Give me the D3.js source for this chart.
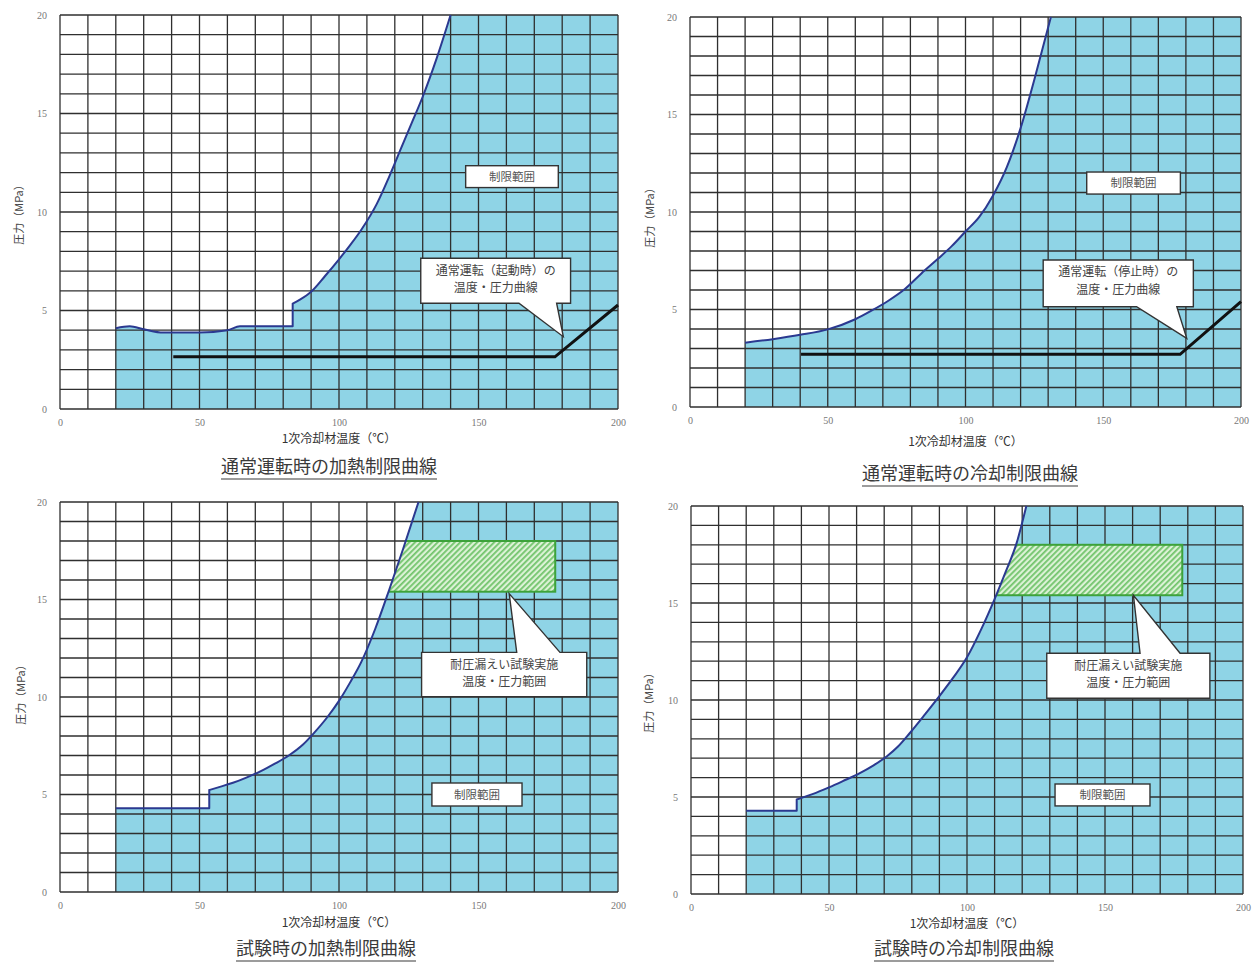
<!DOCTYPE html>
<html><head><meta charset="utf-8">
<script src="https://cdn.jsdelivr.net/npm/d3@7"></script>
<style>body{margin:0;background:#fff}</style>
</head><body>
<svg id="c" width="1260" height="965"></svg>
<script>
// Axis ticks and texts
const tempTicks = [0, 50, 100, 150, 200];
const pressTicks = [0, 5, 10, 15, 20];
const xTitle = "1次冷却材温度（℃）";
const yTitle = "圧力（MPa）";
const captions = ["通常運転時の加熱制限曲線", "通常運転時の冷却制限曲線", "試験時の加熱制限曲線", "試験時の冷却制限曲線"];
const regionLabel = "制限範囲";

// Limit curves: temperature (°C) / pressure (MPa)
const heatNormalT = [20, 25, 30, 37, 50, 60, 64.5, 83.4, 83.4, 86, 90, 95, 100, 104, 108, 113.5, 118, 122, 126, 130, 135, 140];
const heatNormalP = [4.1, 4.2, 4.05, 3.88, 3.88, 4.0, 4.2, 4.2, 5.35, 5.55, 5.95, 6.75, 7.6, 8.32, 9.1, 10.4, 11.8, 13.15, 14.5, 15.85, 17.8, 20];
const coolNormalT = [20, 30, 40, 50, 60, 66, 72, 78, 84, 90, 95, 100, 105, 110, 115, 120, 125, 131];
const coolNormalP = [3.3, 3.48, 3.7, 3.98, 4.5, 4.95, 5.45, 6.05, 6.85, 7.6, 8.25, 9.0, 9.75, 10.85, 12.3, 14.3, 16.8, 20];
const heatTestT = [20, 53.5, 53.5, 57, 62, 67, 72, 77, 82, 87, 91, 96, 100, 104, 108, 113, 118, 123, 128.5];
const heatTestP = [4.29, 4.29, 5.23, 5.38, 5.6, 5.88, 6.2, 6.58, 7.0, 7.55, 8.15, 9.0, 9.8, 10.75, 11.8, 13.5, 15.5, 17.6, 20];
const coolTestT = [20, 38.3, 38.3, 44, 50, 55, 61, 66, 71, 75, 79.3, 85, 90, 95, 100, 105, 110, 114, 118, 121.5];
const coolTestP = [4.29, 4.29, 4.87, 5.15, 5.5, 5.82, 6.22, 6.62, 7.1, 7.6, 8.3, 9.3, 10.2, 11.15, 12.2, 13.6, 15.2, 16.6, 18.1, 20];

// Normal operation temperature–pressure lines
const startupT = [40.6, 177.4, 200];
const startupP = [2.65, 2.65, 5.28];
const shutdownT = [40.3, 177.9, 200];
const shutdownP = [2.7, 2.7, 5.4];

// Leak test temperature / pressure ranges
const heatTestRangeT = [112, 177.5];
const coolTestRangeT = [108, 178];
const testRangeP = [15.4, 18];

// Callout texts
const startupNote = ["通常運転（起動時）の", "温度・圧力曲線"];
const shutdownNote = ["通常運転（停止時）の", "温度・圧力曲線"];
const testNote = ["耐圧漏えい試験実施", "温度・圧力範囲"];

const panels = [
  { box: [60, 618, 15, 409], curveT: heatNormalT, curveP: heatNormalP, lineT: startupT, lineP: startupP,
    note: startupNote, noteBox: [129.3, 183, 5.37, 7.65], noteBase: [164.5, 178], noteTip: [180.4, 3.67], noteSide: "bottom",
    label: [145.4, 178.6, 11.24, 12.35], yTitle: [20, 212], xTitleDy: 31, caption: [329, 468] },
  { box: [690, 1241, 17, 407], curveT: coolNormalT, curveP: coolNormalP, lineT: shutdownT, lineP: shutdownP,
    note: shutdownNote, noteBox: [128.2, 182.7, 5.14, 7.54], noteBase: [162.1, 176.7], noteTip: [180.3, 3.52], noteSide: "bottom",
    label: [144, 178, 10.92, 12.05], yTitle: [651, 215], xTitleDy: 36, caption: [970, 475] },
  { box: [60, 618, 502, 892], curveT: heatTestT, curveP: heatTestP, rangeT: heatTestRangeT, rangeP: testRangeP,
    note: testNote, noteBox: [129.6, 188.8, 10.02, 12.29], noteBase: [163.7, 179.2], noteTip: [161, 15.3], noteSide: "top",
    label: [133.3, 165.6, 4.41, 5.59], yTitle: [22, 692], xTitleDy: 32, caption: [326, 950] },
  { box: [691, 1243, 506, 894], curveT: coolTestT, curveP: coolTestP, rangeT: coolTestRangeT, rangeP: testRangeP,
    note: testNote, noteBox: [128.9, 188, 10.09, 12.41], noteBase: [162.7, 177.2], noteTip: [160.3, 15.4], noteSide: "top",
    label: [131.9, 166.3, 4.54, 5.67], yTitle: [650, 700], xTitleDy: 31, caption: [964, 950] }
];

const svg = d3.select("#c");
const JP = "'Noto Sans CJK JP', 'Noto Sans', sans-serif";
const NUM = "'Liberation Serif', 'DejaVu Serif', serif";
const defs = svg.append("defs");

// diagonal hatch for the test range
const pat = defs.append("pattern").attr("id", "hatch").attr("patternUnits", "userSpaceOnUse")
  .attr("width", 4).attr("height", 4).attr("patternTransform", "rotate(45)");
pat.append("rect").attr("width", 4).attr("height", 4).attr("fill", "#dcf2d6");
pat.append("rect").attr("width", 1.8).attr("height", 4).attr("fill", "#72c46c");

// smooth path through the points; vertical steps (repeated temperature) stay sharp
function curvePath(pts, x, y) {
  const runs = [[pts[0]]];
  for (let k = 1; k < pts.length; k++) {
    if (pts[k][0] === pts[k - 1][0]) runs.push([pts[k]]);
    else runs[runs.length - 1].push(pts[k]);
  }
  const gen = d3.line().x(d => x(d[0])).y(d => y(d[1])).curve(d3.curveMonotoneX);
  return runs.map((r, k) => {
    const s = r.length > 1 ? gen(r) : `M${x(r[0][0])},${y(r[0][1])}`;
    return k === 0 ? s : "L" + s.slice(1);
  }).join("");
}

panels.forEach((pn, i) => {
  const [bx0, bx1, by0, by1] = pn.box;
  const x = d3.scaleLinear().domain([0, 200]).range([bx0, bx1]);
  const y = d3.scaleLinear().domain([0, 20]).range([by1, by0]);
  const g = svg.append("g");

  const pts = pn.curveT.map((t, k) => [t, pn.curveP[k]]);
  const last = pts[pts.length - 1];
  const cPath = curvePath(pts, x, y);
  const areaD = `M${x(pts[0][0])},${y(0)}L` + cPath.slice(1) +
    `L${x(last[0])},${y(20)}L${x(200)},${y(20)}L${x(200)},${y(0)}Z`;
  const lineGen = d3.line().x(d => x(d[0])).y(d => y(d[1]));

  // restricted region
  g.append("path").attr("d", areaD).attr("fill", "#8fd4e6");

  // grid
  const grid = g.append("g").attr("stroke", "#2f2f2f").attr("stroke-width", 1.3);
  grid.selectAll(".v").data(d3.range(0, 201, 10)).join("line")
    .attr("x1", d => x(d)).attr("x2", d => x(d)).attr("y1", y(0)).attr("y2", y(20));
  grid.selectAll(".h").data(d3.range(0, 21, 1)).join("line")
    .attr("y1", d => y(d)).attr("y2", d => y(d)).attr("x1", x(0)).attr("x2", x(200));

  // leak test range, bounded by the limit curve
  if (pn.rangeT) {
    const cid = "clip" + i;
    defs.append("clipPath").attr("id", cid).append("path").attr("d", areaD);
    g.append("rect").attr("clip-path", `url(#${cid})`)
      .attr("x", x(pn.rangeT[0])).attr("width", x(pn.rangeT[1]) - x(pn.rangeT[0]))
      .attr("y", y(pn.rangeP[1])).attr("height", y(pn.rangeP[0]) - y(pn.rangeP[1]))
      .attr("fill", "url(#hatch)").attr("stroke", "#3da23a").attr("stroke-width", 2);
  }

  // limit curve
  g.append("path").attr("d", cPath).attr("fill", "none")
    .attr("stroke", "#2b3990").attr("stroke-width", 2).attr("stroke-linejoin", "round");

  // normal operation line
  if (pn.lineT) {
    const lp = pn.lineT.map((t, k) => [t, pn.lineP[k]]);
    g.append("path").attr("d", lineGen(lp)).attr("fill", "none")
      .attr("stroke", "#111").attr("stroke-width", 3);
  }

  // callout
  const [nt0, nt1, np0, np1] = pn.noteBox;
  const X0 = x(nt0), X1 = x(nt1), Ytop = y(np1), Ybot = y(np0);
  const B1 = x(pn.noteBase[0]), B2 = x(pn.noteBase[1]);
  const TX = x(pn.noteTip[0]), TY = y(pn.noteTip[1]);
  let d;
  if (pn.noteSide === "bottom") {
    d = `M${X0},${Ytop}H${X1}V${Ybot}H${B2}L${TX},${TY}L${B1},${Ybot}H${X0}Z`;
  } else {
    d = `M${X0},${Ytop}H${B1}L${TX},${TY}L${B2},${Ytop}H${X1}V${Ybot}H${X0}Z`;
  }
  g.append("path").attr("d", d).attr("fill", "#fff").attr("stroke", "#333").attr("stroke-width", 1.4)
    .attr("stroke-linejoin", "miter");
  pn.note.forEach((s, k) => {
    g.append("text").attr("x", (X0 + X1) / 2).attr("y", Ytop + 13 + k * 17.5)
      .attr("text-anchor", "middle").attr("dominant-baseline", "middle")
      .attr("font-family", JP).attr("font-size", 12).attr("fill", "#444").text(s);
  });

  // region label
  const [lt0, lt1, lp0, lp1] = pn.label;
  g.append("rect").attr("x", x(lt0)).attr("y", y(lp1)).attr("width", x(lt1) - x(lt0)).attr("height", y(lp0) - y(lp1))
    .attr("fill", "#fff").attr("stroke", "#333").attr("stroke-width", 1.4);
  g.append("text").attr("x", (x(lt0) + x(lt1)) / 2).attr("y", (y(lp0) + y(lp1)) / 2 + 1)
    .attr("text-anchor", "middle").attr("dominant-baseline", "middle")
    .attr("font-family", JP).attr("font-size", 11.5).attr("fill", "#555").text(regionLabel);

  // axes
  const ax = g.append("g").attr("transform", `translate(0,${by1})`)
    .call(d3.axisBottom(x).tickValues(tempTicks).tickSize(0).tickPadding(10));
  const ay = g.append("g").attr("transform", `translate(${bx0},0)`)
    .call(d3.axisLeft(y).tickValues(pressTicks).tickSize(0).tickPadding(13));
  [ax, ay].forEach(a => {
    a.select(".domain").remove();
    a.selectAll("text").attr("font-family", NUM).attr("font-size", 10).attr("fill", "#777");
  });

  g.append("text").attr("x", (bx0 + bx1) / 2).attr("y", by1 + pn.xTitleDy)
    .attr("text-anchor", "middle").attr("dominant-baseline", "middle")
    .attr("font-family", JP).attr("font-size", 12).attr("fill", "#333").text(xTitle);
  g.append("text").attr("transform", `translate(${pn.yTitle[0]},${pn.yTitle[1]}) rotate(-90)`)
    .attr("text-anchor", "middle").attr("dominant-baseline", "middle")
    .attr("font-family", JP).attr("font-size", 11).attr("fill", "#444").text(yTitle);

  // caption, underlined
  const cap = g.append("text").attr("x", pn.caption[0]).attr("y", pn.caption[1])
    .attr("text-anchor", "middle").attr("dominant-baseline", "middle")
    .attr("font-family", JP).attr("font-size", 18).attr("fill", "#3a3a3a").text(captions[i]);
  const w = cap.node().getComputedTextLength();
  g.append("line").attr("x1", pn.caption[0] - w / 2).attr("x2", pn.caption[0] + w / 2)
    .attr("y1", pn.caption[1] + 11).attr("y2", pn.caption[1] + 11)
    .attr("stroke", "#3a3a3a").attr("stroke-width", 1.2);
});
</script>
</body></html>
